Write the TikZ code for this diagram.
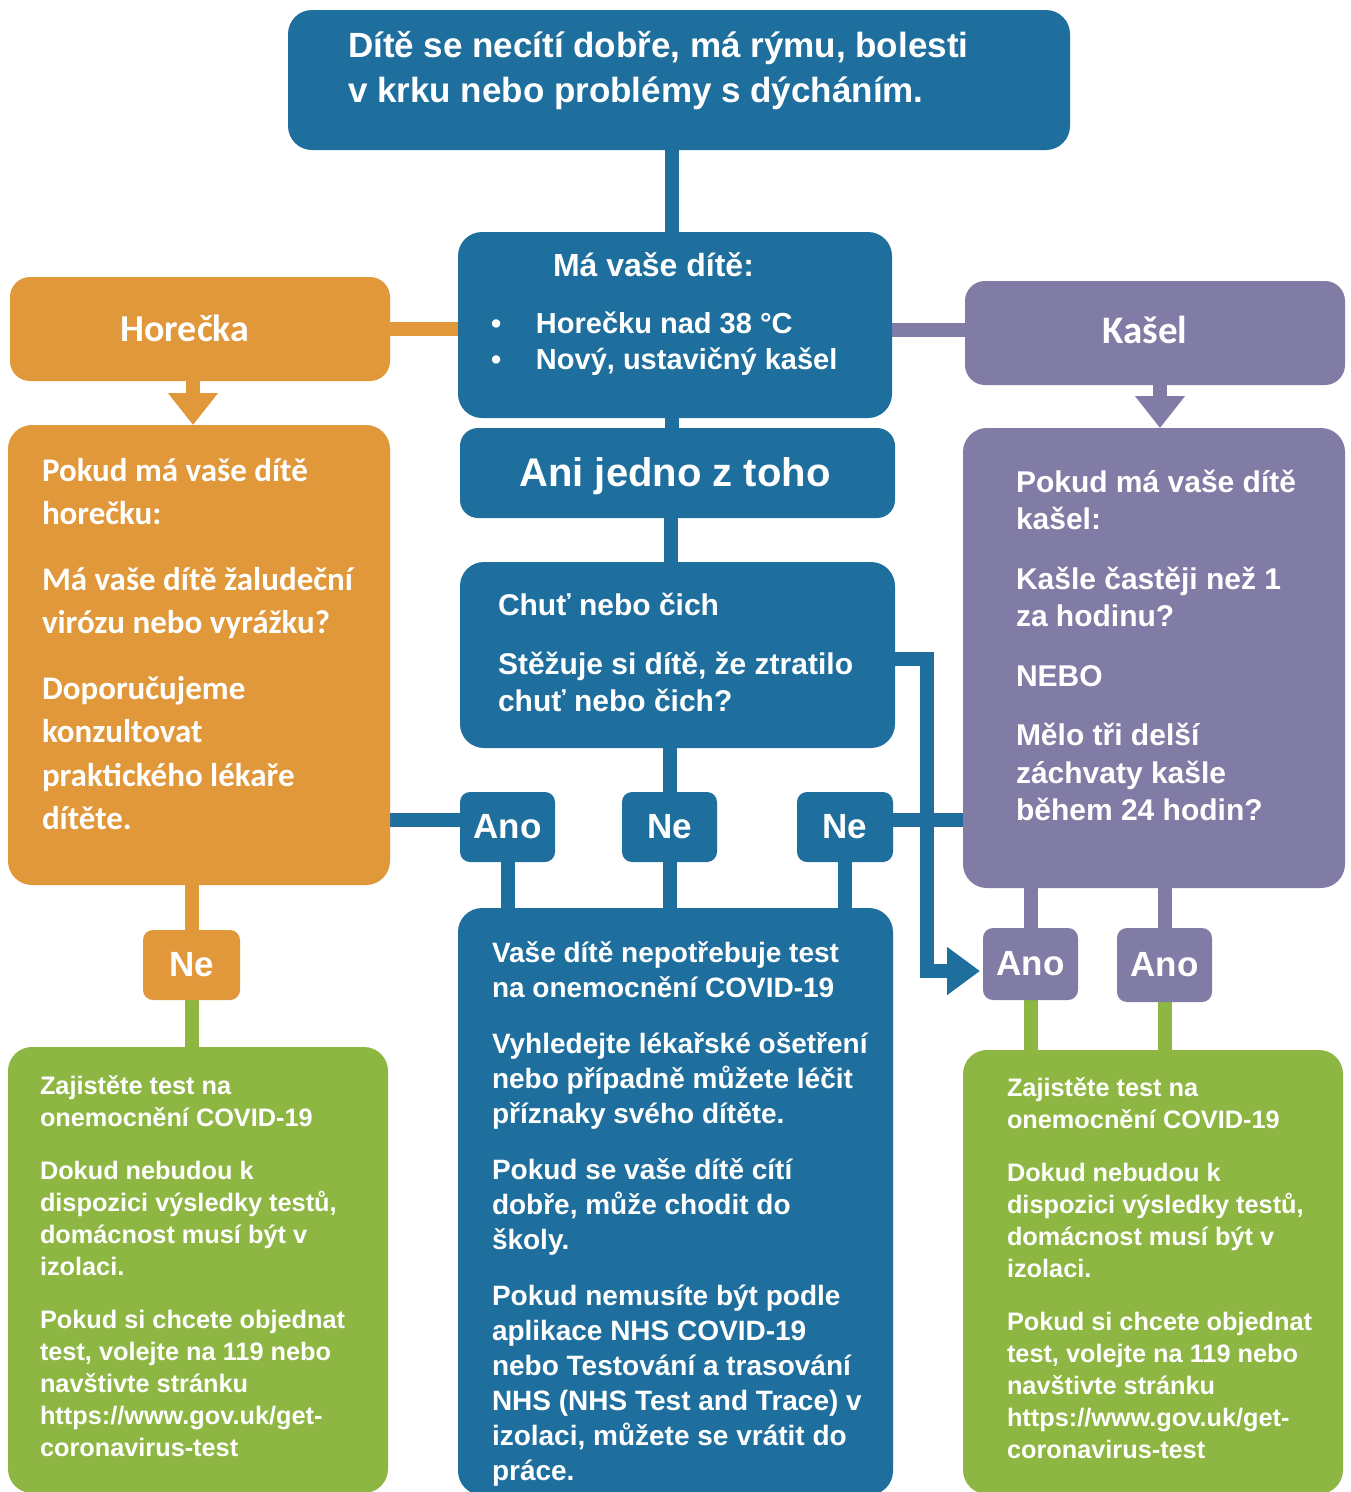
\documentclass[tikz,border=0pt]{standalone}
\usepackage{fontspec}
\setmainfont{Liberation Sans}
\newfontfamily\calib{Carlito}
\usetikzlibrary{arrows.meta,backgrounds,calc}
\definecolor{cblue}{HTML}{1F6F9E}
\definecolor{corange}{HTML}{E1983A}
\definecolor{cpurple}{HTML}{807CA5}
\definecolor{cgreen}{HTML}{8DB643}
\tikzset{
  bx/.style={rectangle, rounded corners=#1, inner sep=0pt, outer sep=0pt, draw=none, text=white},
  bx/.default=24pt,
  conn/.style={line width=14pt},
  txt/.style={anchor=base west, inner sep=0pt, outer sep=0pt, text=white, font=\bfseries},
  ctxt/.style={anchor=base, inner sep=0pt, outer sep=0pt, text=white, font=\bfseries},
  lbl/.style={bx=10pt, minimum width=95pt, minimum height=70pt, font=\bfseries\fontsize{35}{40}\selectfont},
}
\begin{document}
\begin{tikzpicture}[x=1pt,y=-1pt]
\useasboundingbox (0,0) rectangle (1351,1492);
% boxes
\node[bx, fill=cblue, minimum width=782pt, minimum height=140pt] (top) at (679,80) {};
\node[bx, fill=cblue, minimum width=434pt, minimum height=186pt] (ma) at (675,325) {};
\node[bx=20pt, fill=corange, minimum width=380pt, minimum height=104pt] (hor) at (200,329) {};
\node[bx=20pt, fill=cpurple, minimum width=380pt, minimum height=104pt] (kas) at (1155,333) {};
\node[bx, fill=corange, minimum width=382pt, minimum height=460pt] (horb) at (199,655) {};
\node[bx, fill=cpurple, minimum width=382pt, minimum height=460pt] (kasb) at (1154,658) {};
\node[bx=18pt, fill=cblue, minimum width=435pt, minimum height=90pt] (ani) at (677.5,473) {};
\node[bx, fill=cblue, minimum width=435pt, minimum height=186pt] (chut) at (677.5,655) {};
\node[lbl, fill=cblue] (ano1) at (507.5,827) {Ano};
\node[lbl, fill=cblue] (ne1) at (669.5,827) {Ne};
\node[lbl, fill=cblue, minimum width=96pt] (ne2) at (845,827) {Ne};
\node[bx, fill=cblue, minimum width=435pt, minimum height=587pt] (blueb) at (675.5,1201.5) {};
\node[lbl, fill=corange, minimum width=97pt] (neo) at (191.5,965) {Ne};
\node[bx, fill=cgreen, minimum width=380pt, minimum height=446pt] (gl) at (198,1270) {};
\node[lbl, fill=cpurple, minimum height=72pt] (anop1) at (1030.5,964) {Ano};
\node[lbl, fill=cpurple, minimum height=74pt] (anop2) at (1164.5,965) {Ano};
\node[bx, fill=cgreen, minimum width=380pt, minimum height=444pt] (gr) at (1153,1272) {};
% texts
\node[txt] (ttop) at (348,57.5) {\parbox[t]{700pt}{\raggedright\fontsize{35}{45}\selectfont Dítě se necítí dobře, má rýmu, bolesti\\v krku nebo problémy s dýcháním.}};
\node[txt] (tma) at (553,276.5) {\fontsize{32}{38}\selectfont Má vaše dítě:};
\node[txt] (tmab) at (491,333) {\parbox[t]{400pt}{\raggedright\fontsize{29}{36}\selectfont\makebox[45pt][l]{•}Horečku nad 38~°C\\\makebox[45pt][l]{•}Nový, ustavičný kašel}};
\node[ctxt] (thor) at (185,341) {\calib\bfseries\fontsize{38}{44}\selectfont Horečka};
\node[ctxt] (tkas) at (1145,343) {\calib\bfseries\fontsize{39}{44}\selectfont Kašel};
\node[ctxt] (tani) at (675,486) {\fontsize{40}{46}\selectfont Ani jedno z toho};
\node[txt] (thorb) at (42,481) {\parbox[t]{340pt}{\raggedright\calib\bfseries\fontsize{33}{43.5}\selectfont Pokud má vaše dítě\\horečku:\\[22pt]Má vaše dítě žaludeční\\virózu nebo vyrážku?\\[22pt]Doporučujeme\\konzultovat\\praktického lékaře\\dítěte.}};
\node[txt] (tkasb) at (1016,492) {\parbox[t]{330pt}{\raggedright\fontsize{30}{37.5}\selectfont Pokud má vaše dítě\\kašel:\\[22pt]Kašle častěji než 1\\za hodinu?\\[22pt]NEBO\\[22pt]Mělo tři delší\\záchvaty kašle\\během 24 hodin?}};
\node[txt] (tchut) at (498,615) {\parbox[t]{400pt}{\raggedright\fontsize{30}{37}\selectfont Chuť nebo čich\\[22pt]Stěžuje si dítě, že ztratilo\\chuť nebo čich?}};
\node[txt] (tblueb) at (492,962) {\parbox[t]{420pt}{\raggedright\fontsize{28}{35}\selectfont Vaše dítě nepotřebuje test\\na onemocnění COVID-19\\[21pt]Vyhledejte lékařské ošetření\\nebo případně můžete léčit\\příznaky svého dítěte.\\[21pt]Pokud se vaše dítě cítí\\dobře, může chodit do\\školy.\\[21pt]Pokud nemusíte být podle\\aplikace NHS COVID-19\\nebo Testování a trasování\\NHS (NHS Test and Trace) v\\izolaci, můžete se vrátit do\\práce.}};
\node[txt] (tgl) at (40,1094) {\parbox[t]{345pt}{\raggedright\fontsize{25.3}{32}\selectfont Zajistěte test na\\onemocnění COVID-19\\[21pt]Dokud nebudou k\\dispozici výsledky testů,\\domácnost musí být v\\izolaci.\\[21pt]Pokud si chcete objednat\\test, volejte na 119 nebo\\navštivte stránku\\https://www.gov.uk/get-\\coronavirus-test}};
\node[txt] (tgr) at (1007,1096) {\parbox[t]{335pt}{\raggedright\fontsize{25.3}{32}\selectfont Zajistěte test na\\onemocnění COVID-19\\[21pt]Dokud nebudou k\\dispozici výsledky testů,\\domácnost musí být v\\izolaci.\\[21pt]Pokud si chcete objednat\\test, volejte na 119 nebo\\navštivte stránku\\https://www.gov.uk/get-\\coronavirus-test}};
% connectors
\begin{pgfonlayer}{background}
\fill[white] (0,0) rectangle (1351,1492);
\draw[conn, cblue] ([xshift=-3pt]ma.north) -- ([xshift=-3pt]ma.north |- top.south);
\draw[conn, corange] (hor.east) -- (hor.east -| ma.west);
\draw[conn, cpurple] ([yshift=3pt]kas.west) -- ([yshift=3pt]kas.west -| ma.east);
\draw[conn, cblue] ([xshift=-3pt]ma.south) -- ([xshift=-3pt]ma.south |- ani.north);
\draw[conn, cblue] ([xshift=-7pt]chut.north) -- ([xshift=-7pt]chut.north |- ani.south);
\draw[conn, cblue] (ne1.north) -- (ne1.north |- chut.south);
\draw[conn, cblue] ([yshift=7pt]ano1.west) -- ([yshift=7pt]ano1.west -| horb.east);
\draw[conn, cblue] ([yshift=7pt]ne2.east) -- ([yshift=7pt]ne2.east -| kasb.west);
\draw[conn, cblue] (ano1.south) -- (ano1.south |- blueb.north);
\draw[conn, cblue] (ne1.south) -- (ne1.south |- blueb.north);
\draw[conn, cblue] (ne2.south) -- (ne2.south |- blueb.north);
\draw[conn, cblue, -{Triangle[width=46pt,length=33pt]}] ([yshift=-4pt]chut.east) -- ++(32,0) |- ([xshift=-3pt,yshift=-7pt]anop1.west);
\draw[conn, corange, -{Triangle[width=48pt,length=32pt]}] ([xshift=-7pt]hor.south) -- ([xshift=-7pt]hor.south |- horb.north);
\draw[conn, cpurple, -{Triangle[width=48pt,length=32pt]}] ([xshift=5pt]kas.south) -- ([xshift=5pt]kas.south |- kasb.north);
\draw[conn, corange] (neo.north) -- (neo.north |- horb.south);
\draw[conn, cgreen] (neo.south) -- (neo.south |- gl.north);
\draw[conn, cpurple] (anop1.north) -- (anop1.north |- kasb.south);
\draw[conn, cpurple] (anop2.north) -- (anop2.north |- kasb.south);
\draw[conn, cgreen] (anop1.south) -- (anop1.south |- gr.north);
\draw[conn, cgreen] (anop2.south) -- (anop2.south |- gr.north);
\end{pgfonlayer}
\end{tikzpicture}
\end{document}
